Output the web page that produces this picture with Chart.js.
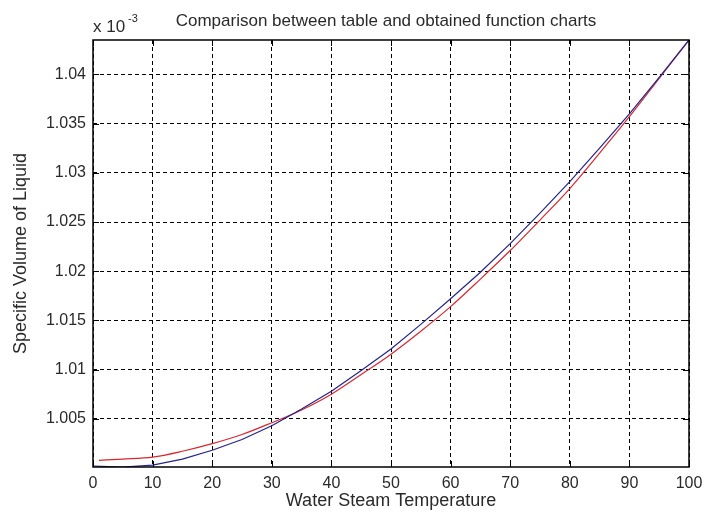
<!DOCTYPE html>
<html>
<head>
<meta charset="utf-8">
<script src="https://cdn.jsdelivr.net/npm/chart.js@4/dist/chart.umd.min.js"></script>
<style>
  body { margin: 0; background: #fff; }
  #wrap { width: 707px; height: 514px; position: relative; }
</style>
</head>
<body>
<div id="wrap"><canvas id="myChart"></canvas></div>
<script>
// tabla de vapor (azul) y funcion obtenida (rojo), en unidades de 10^-3
let tablaTemp = [0, 5, 10, 15, 20, 25, 30, 35, 40, 45, 50, 55, 60, 65, 70, 75, 80, 85, 90, 95, 100];
let tablaVolumen = [1.0002, 1.0001, 1.0003, 1.0009, 1.0018, 1.0029, 1.0043, 1.0060, 1.0078, 1.0099, 1.0121,
                    1.0146, 1.0172, 1.0199, 1.0228, 1.0259, 1.0291, 1.0325, 1.0360, 1.0397, 1.0435];
let funcionTemp = [1, 5, 10, 15, 20, 25, 30, 35, 40, 45, 50, 55, 60, 65, 70, 75, 80, 85, 90, 95, 100];
let funcionVolumen = [1.00078, 1.0009, 1.0011, 1.0017, 1.00247, 1.0034, 1.0046, 1.0059, 1.0075, 1.0095, 1.01157,
                      1.0139, 1.0164, 1.0192, 1.0221, 1.0252, 1.0284, 1.0320, 1.0357, 1.0396, 1.0435];
let xTicks = [0, 10, 20, 30, 40, 50, 60, 70, 80, 90, 100];
let yTicks = [1.005, 1.01, 1.015, 1.02, 1.025, 1.03, 1.035, 1.04];

let fuente = 'Liberation Sans, Arial, sans-serif';
let grisTexto = '#2a2a2a';

// caja, marcas hacia dentro, titulo y factor x10^-3 (estilo matlab)
const marcoMatlab = {
  id: 'marcoMatlab',
  afterDraw(chart) {
    const c = chart.ctx;
    const a = chart.chartArea;
    const sx = chart.scales.x, sy = chart.scales.y;
    c.save();
    c.strokeStyle = '#000';
    c.lineWidth = 1;
    c.setLineDash([]);
    c.beginPath();
    xTicks.forEach(v => {
      let px = Math.round(sx.getPixelForValue(v)) + 0.5;
      c.moveTo(px, a.bottom); c.lineTo(px, a.bottom - 6);
      c.moveTo(px, a.top); c.lineTo(px, a.top + 6);
    });
    yTicks.forEach(v => {
      let py = Math.round(sy.getPixelForValue(v)) + 0.5;
      c.moveTo(a.left, py); c.lineTo(a.left + 6, py);
      c.moveTo(a.right, py); c.lineTo(a.right - 6, py);
    });
    c.stroke();
    c.lineWidth = 1.5;
    c.strokeRect(a.left, a.top, a.right - a.left, a.bottom - a.top);

    c.fillStyle = grisTexto;
    c.textBaseline = 'alphabetic';
    c.textAlign = 'center';
    c.font = '17px ' + fuente;
    c.fillText('Comparison between table and obtained function charts', 386, 26);
    c.textAlign = 'left';
    c.font = '17px ' + fuente;
    c.fillText('x 10', 93, 32);
    c.font = '11px ' + fuente;
    c.fillText('-3', 128, 22);
    c.restore();
  }
};

const ctx = document.getElementById('myChart').getContext('2d');
const chart = new Chart(ctx, {
  type: 'line',
  data: {
    datasets: [{
      label: 'tabla',
      data: tablaTemp.map((t, i) => ({ x: t, y: tablaVolumen[i] })),
      borderColor: '#23238f',
      borderWidth: 1.2,
      pointRadius: 0,
      tension: 0,
      fill: false
    }, {
      label: 'funcion',
      data: funcionTemp.map((t, i) => ({ x: t, y: funcionVolumen[i] })),
      borderColor: '#d8282e',
      borderWidth: 1.2,
      pointRadius: 0,
      cubicInterpolationMode: 'monotone',
      fill: false
    }]
  },
  options: {
    responsive: true,
    maintainAspectRatio: false,
    animation: false,
    events: [],
    layout: { padding: { top: 40, right: 18, left: 0, bottom: 0 } },
    plugins: { legend: { display: false }, tooltip: { enabled: false } },
    scales: {
      x: {
        type: 'linear',
        min: 0, max: 100,
        afterFit: s => { s.height = 47; s.paddingRight = 0; s.paddingLeft = 0; },
        afterBuildTicks: s => { s.ticks = xTicks.map(v => ({ value: v })); },
        grid: { color: '#000', lineWidth: 1, drawTicks: false },
        border: { display: false, dash: [4, 3] },
        ticks: { color: grisTexto, font: { family: fuente, size: 16 }, padding: 7, maxRotation: 0 },
        title: { display: true, text: 'Water Steam Temperature', color: grisTexto,
                 font: { family: fuente, size: 18 }, padding: { top: 0, bottom: 2 } }
      },
      y: {
        type: 'linear',
        min: 1.0001, max: 1.0435,
        afterFit: s => { s.width = 93; },
        afterBuildTicks: s => { s.ticks = yTicks.map(v => ({ value: v })); },
        grid: { color: '#000', lineWidth: 1, drawTicks: false },
        border: { display: false, dash: [4, 3] },
        ticks: { color: grisTexto, font: { family: fuente, size: 16 }, padding: 7,
                 callback: v => String(+v.toFixed(3)) },
        title: { display: true, text: 'Specific Volume of Liquid', color: grisTexto,
                 font: { family: fuente, size: 18 }, padding: { top: 10, bottom: 0 } }
      }
    }
  },
  plugins: [marcoMatlab]
});
</script>
</body>
</html>
